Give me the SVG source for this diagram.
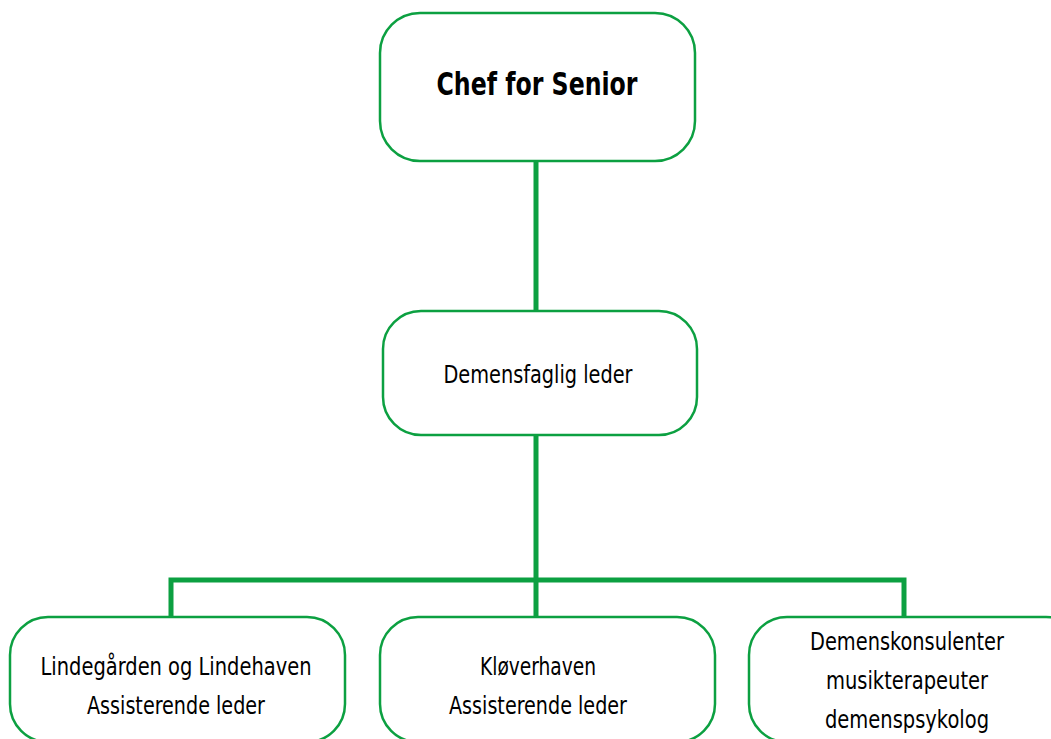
<svg xmlns="http://www.w3.org/2000/svg" width="1051" height="739" viewBox="0 0 1051 739">
<style>
.box{fill:#fff;stroke:#0ca041;stroke-width:2.5}
.t{font-family:"Liberation Sans Narrow","DejaVu Sans Condensed","Liberation Sans",sans-serif;font-size:25px;fill:#000;text-anchor:middle}
.b{font-weight:bold;font-size:32px}
.c{stroke:#0ca041;stroke-width:5;fill:none}
</style>
<rect width="1051" height="739" fill="#fff"/>
<g id="connectors">
<line class="c" x1="536" y1="161" x2="536" y2="311"/>
<line class="c" x1="536" y1="435" x2="536" y2="617"/>
<polyline class="c" points="171,617 171,580 904,580 904,617"/>
</g>
<g id="chef">
<rect class="box" x="380" y="13" width="315" height="148" rx="40"/>
<text class="t b" x="537" y="95" textLength="201" lengthAdjust="spacingAndGlyphs">Chef for Senior</text>
</g>
<g id="demensfaglig">
<rect class="box" x="383" y="311" width="314" height="124" rx="38"/>
<text class="t" x="538" y="383" textLength="189" lengthAdjust="spacingAndGlyphs">Demensfaglig leder</text>
</g>
<g id="lindegaarden">
<rect class="box" x="10" y="617" width="335" height="125" rx="38"/>
<text class="t" x="176" y="675" textLength="271" lengthAdjust="spacingAndGlyphs">Lindegården og Lindehaven</text>
<text class="t" x="176" y="714" textLength="178" lengthAdjust="spacingAndGlyphs">Assisterende leder</text>
</g>
<g id="kloeverhaven">
<rect class="box" x="380" y="617" width="335" height="125" rx="38"/>
<text class="t" x="538" y="675" textLength="116" lengthAdjust="spacingAndGlyphs">Kløverhaven</text>
<text class="t" x="538" y="714" textLength="178" lengthAdjust="spacingAndGlyphs">Assisterende leder</text>
</g>
<g id="demenskonsulenter">
<rect class="box" x="749" y="617" width="335" height="125" rx="38"/>
<text class="t" x="907" y="650" textLength="194" lengthAdjust="spacingAndGlyphs">Demenskonsulenter</text>
<text class="t" x="907" y="689" textLength="162" lengthAdjust="spacingAndGlyphs">musikterapeuter</text>
<text class="t" x="907" y="728" textLength="164" lengthAdjust="spacingAndGlyphs">demenspsykolog</text>
</g>
</svg>
